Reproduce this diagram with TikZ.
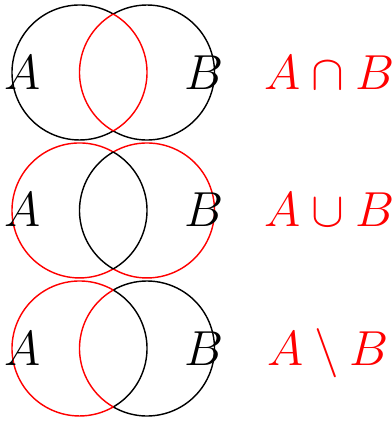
\documentclass[tikz,border=0pt]{standalone}
\usepackage{tikz}
\usetikzlibrary{positioning}

\begin{document}
\begin{tikzpicture}[
  setline/.style={semithick, black},
  hiline/.style={semithick, red},
  setlabel/.style={font=\huge, inner sep=0pt, anchor=base},
  oplabel/.style={font=\huge, text=red, inner sep=0pt, anchor=base},
]
\useasboundingbox (-1.178,-5.193) rectangle (4.629,1.074);

%% Row 1: A cap B
\draw[setline] (0,0) ++(60:1) arc[start angle=60, end angle=300, radius=1];
\draw[setline] (1,0) ++(-120:1) arc[start angle=-120, end angle=120, radius=1];
\draw[hiline] (0,0) ++(-60:1) arc[start angle=-60, end angle=60, radius=1];
\draw[hiline] (1,0) ++(120:1) arc[start angle=120, end angle=240, radius=1];
\node[setlabel] (a1) at (-0.85,-0.245) {$A$};
\node[setlabel] (b1) at (1.84,-0.245) {$B$};
\node[oplabel] (op1) at (3.7,-0.245) {$A\cap B$};

%% Row 2: A cup B
\draw[hiline] (0,-2.044) ++(60:1) arc[start angle=60, end angle=300, radius=1];
\draw[hiline] (1,-2.044) ++(-120:1) arc[start angle=-120, end angle=120, radius=1];
\draw[setline] (0,-2.044) ++(-60:1) arc[start angle=-60, end angle=60, radius=1];
\draw[setline] (1,-2.044) ++(120:1) arc[start angle=120, end angle=240, radius=1];
\node[setlabel] (a2) at (-0.85,-2.289) {$A$};
\node[setlabel] (b2) at (1.84,-2.289) {$B$};
\node[oplabel] (op2) at (3.7,-2.289) {$A\cup B$};

%% Row 3: A minus B
\draw[setline] (1,-4.089) ++(-120:1) arc[start angle=-120, end angle=120, radius=1];
\draw[setline] (0,-4.089) ++(-60:1) arc[start angle=-60, end angle=60, radius=1];
\draw[hiline] (0,-4.089) ++(60:1) arc[start angle=60, end angle=300, radius=1];
\draw[hiline] (1,-4.089) ++(120:1) arc[start angle=120, end angle=240, radius=1];
\node[setlabel] (a3) at (-0.85,-4.334) {$A$};
\node[setlabel] (b3) at (1.84,-4.334) {$B$};
\node[oplabel] (op3) at (3.68,-4.334) {$A\setminus B$};

\end{tikzpicture}
\end{document}
